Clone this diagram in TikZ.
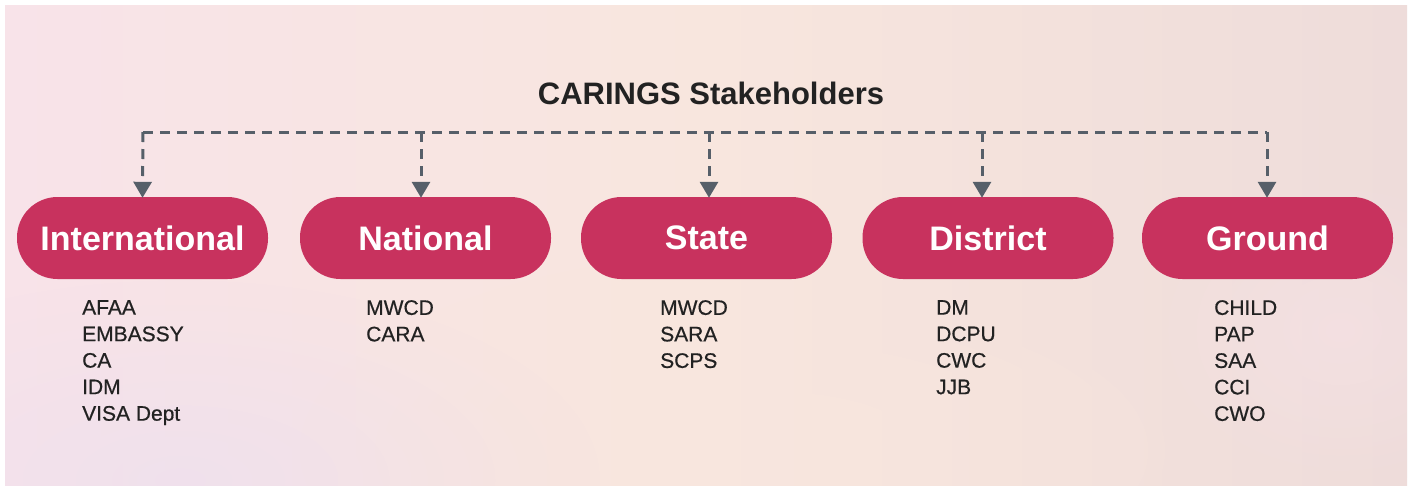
\documentclass[tikz,border=0pt]{standalone}
\usepackage{fontspec}
\setmainfont{Liberation Sans}
\usetikzlibrary{arrows.meta,fadings}
\definecolor{pill}{HTML}{C8325E}
\definecolor{dashc}{HTML}{565F69}
\definecolor{txt}{HTML}{222222}
\definecolor{bgL}{HTML}{F8E3E9}
\definecolor{bgM}{HTML}{F8E6DE}
\definecolor{bgR}{HTML}{EEDCDA}
\definecolor{lav}{HTML}{EEE0EE}
\tikzfading[name=softblob, inner color=transparent!0, outer color=transparent!100]
\tikzset{
  pillbox/.style={rectangle, rounded corners=40.5pt, minimum width=251pt, minimum height=82pt,
    fill=pill, text=white, font=\fontsize{34}{40}\selectfont\bfseries, inner sep=0pt},
  listbox/.style={anchor=north west, align=left, text=txt, inner sep=0pt,
    font=\fontsize{21}{26.5}\selectfont\addfontfeature{FakeBold=0.6}},
  titlebox/.style={text=txt, font=\fontsize{31}{36}\selectfont\bfseries, inner sep=0pt},
  dashline/.style={draw=dashc, line width=3pt, dash pattern=on 10pt off 7pt},
  droparrow/.style={dashline, -{Triangle[width=18pt,length=16pt]}, shorten >=-1pt},
}
\begin{document}
\begin{tikzpicture}[x=1pt,y=-1pt]
\useasboundingbox (0,0) rectangle (1413,491);
\fill[white] (0,0) rectangle (1413,491);
\shade[left color=bgL, right color=bgR, middle color=bgM] (5,5) rectangle (1407,485);
\begin{scope}
\clip (5,5) rectangle (1407,485);
\fill[lav, opacity=0.8, path fading=softblob] (180,480) ellipse (420 and 200);
\fill[bgM, opacity=0.7, path fading=softblob] (780,450) ellipse (480 and 200);
\fill[bgL, opacity=0.5, path fading=softblob] (1340,330) ellipse (200 and 160);
\end{scope}

\node[titlebox] (title) at (711,93) {CARINGS Stakeholders};

\node[pillbox] (intl) at (142.5,238) {International};
\node[pillbox] (nat) at (425.5,238) {National};
\node[pillbox] (state) at (706.5,238) {State};
\node[pillbox] (dist) at (988,238) {District};
\node[pillbox] (grnd) at (1267.5,238) {Ground};

\coordinate (barL) at (143,132);
\coordinate (barR) at (1267,132);
\coordinate (b2) at (421,132);
\coordinate (b3) at (709,132);
\coordinate (b4) at (982,132);

\draw[dashline] (barL) -- (barR);
\draw[droparrow] (barL) -- (intl.north);
\draw[droparrow] (b2) -- (b2 |- nat.north);
\draw[droparrow] (b3) -- (b3 |- state.north);
\draw[droparrow] (b4) -- (b4 |- dist.north);
\draw[droparrow] (barR) -- (barR |- grnd.north);

\node[listbox] (l1) at (82,300) {AFAA\\EMBASSY\\CA\\IDM\\VISA Dept};
\node[listbox] (l2) at (366,300) {MWCD\\CARA};
\node[listbox] (l3) at (660,300) {MWCD\\SARA\\SCPS};
\node[listbox] (l4) at (936,300) {DM\\DCPU\\CWC\\JJB};
\node[listbox] (l5) at (1214,300) {CHILD\\PAP\\SAA\\CCI\\CWO};
\end{tikzpicture}
\end{document}
